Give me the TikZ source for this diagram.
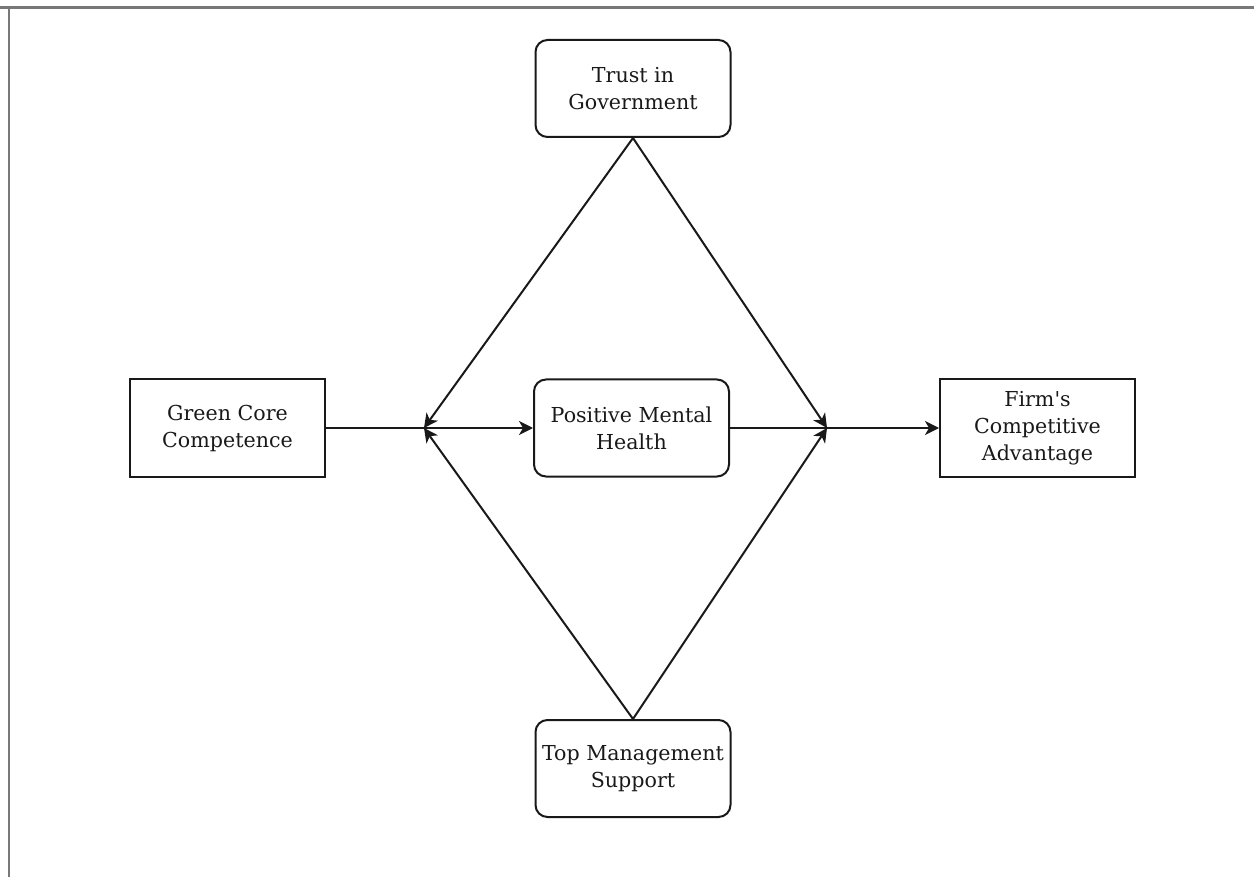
\documentclass[tikz,border=0pt]{standalone}
\usepackage{fontspec}
\setmainfont{DejaVu Serif}
\usetikzlibrary{arrows.meta}
\definecolor{framegray}{RGB}{120,120,120}
\definecolor{ink}{RGB}{25,25,25}
\tikzset{
  base/.style={draw=ink, line width=1pt, align=center, text=ink, inner sep=0pt,
    minimum width=97.5pt, minimum height=48.5pt,
    font=\fontsize{10.3}{13.5}\selectfont},
  sqbox/.style={base},
  rbox/.style={base, rounded corners=6pt},
  conn/.style={draw=ink, line width=1pt},
  arr/.style={conn, -{Stealth[length=7pt, width=7pt, inset=2pt]}},
}
\begin{document}
\begin{tikzpicture}[x=0.5pt, y=-0.5pt]
\useasboundingbox (0,0) rectangle (1254,877);
\draw[framegray, line width=1.1pt] (0,7.5) -- (1254,7.5);
\draw[framegray, line width=1.1pt] (9,7.5) -- (9,877);
\node[sqbox] (gcc) at (227.5,428) {Green Core\\Competence};
\node[rbox]  (pmh) at (631.5,428) {Positive Mental\\Health};
\node[sqbox] (fca) at (1037.5,428) {Firm\textquotesingle s\\Competitive\\Advantage};
\node[rbox]  (tg)  at (633,88.5) {Trust in\\Government};
\node[rbox]  (tms) at (633,768.5) {Top Management\\Support};
\coordinate (jl) at (424,428);
\coordinate (jr) at (827,428);
\draw[arr] (gcc.east) -- (pmh.west);
\draw[arr] (pmh.east) -- (fca.west);
\draw[arr] (tg.south) -- (jl);
\draw[arr] (tg.south) -- (jr);
\draw[arr] (tms.north) -- (jl);
\draw[arr] (tms.north) -- (jr);
\end{tikzpicture}
\end{document}
